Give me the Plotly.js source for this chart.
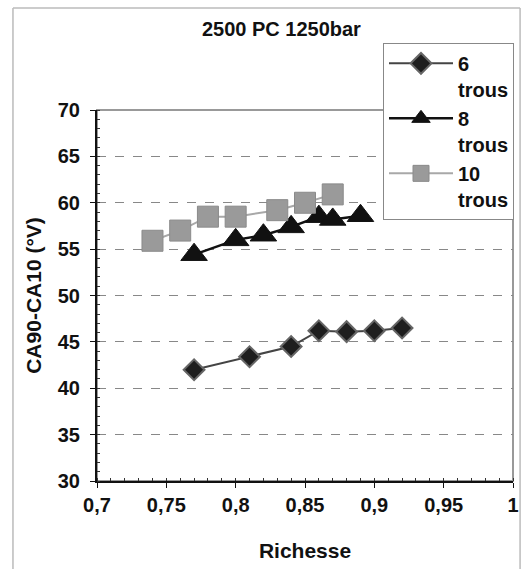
<!DOCTYPE html>
<html>
<head>
<meta charset="utf-8">
<script src="https://cdn.plot.ly/plotly-3.0.1.min.js"></script>
<style>html,body{margin:0;padding:0;background:#fff;}#chart{width:526px;height:569px;}</style>
</head>
<body>
<div id="chart"></div>
<script>
const x6 = [0.77, 0.81, 0.84, 0.86, 0.88, 0.90, 0.92];
const y6 = [42.0, 43.4, 44.5, 46.2, 46.1, 46.2, 46.5];
const x8 = [0.77, 0.80, 0.82, 0.84, 0.86, 0.87, 0.89];
const y8 = [54.4, 56.0, 56.5, 57.4, 58.5, 58.2, 58.6];
const x10 = [0.74, 0.76, 0.78, 0.80, 0.83, 0.85, 0.87];
const y10 = [55.9, 57.0, 58.5, 58.5, 59.2, 60.0, 60.9];
const seriesNames = ["6<br>trous", "8<br>trous", "10<br>trous"];
const xTickVals = [0.7, 0.75, 0.8, 0.85, 0.9, 0.95, 1];
const xTickText = ["0,7", "0,75", "0,8", "0,85", "0,9", "0,95", "1"];
const yTickVals = [30, 35, 40, 45, 50, 55, 60, 65, 70];
const yTickText = ["30", "35", "40", "45", "50", "55", "60", "65", "70"];

const FONT = "Liberation Sans";
const BFONT = {family: FONT, size: 20, color: "#111", weight: 700};

const traces = [
  {x: x6, y: y6, name: seriesNames[0], mode: "lines+markers", type: "scatter",
   line: {color: "#444", width: 2},
   marker: {symbol: "diamond", size: 16, color: "#1e1e1e", line: {color: "#666", width: 2}}},
  {x: x8, y: y8, name: seriesNames[1], mode: "lines+markers", type: "scatter",
   line: {color: "#111", width: 2.5},
   marker: {symbol: "triangle-up", size: 23, color: "#111", line: {color: "#111", width: 1}}},
  {x: x10, y: y10, name: seriesNames[2], mode: "lines+markers", type: "scatter",
   line: {color: "#a8a8a8", width: 2},
   marker: {symbol: "square", size: 21, color: "#9a9a9a", line: {color: "#8a8a8a", width: 1}}}
];

const border = {color: "#bbb", width: 1.5};
const layout = {
  width: 526, height: 569,
  margin: {l: 97, r: 13, t: 110, b: 88, autoexpand: false},
  paper_bgcolor: "#fff", plot_bgcolor: "#fff",
  separators: ", ",
  font: {family: FONT, color: "#111"},
  title: {text: "2500 PC 1250bar", font: {family: FONT, size: 20, color: "#111", weight: 700},
          x: 0.535, xanchor: "center", y: 0.949, yanchor: "middle"},
  showlegend: true,
  legend: {x: 0.6875, y: 1.181, xanchor: "left", yanchor: "top",
           bgcolor: "#fff", bordercolor: "#888", borderwidth: 1,
           font: BFONT,
           valign: "top", tracegroupgap: 0, itemwidth: 64},
  xaxis: {range: [0.7, 1], tickvals: xTickVals, ticktext: xTickText,
          ticks: "outside", ticklen: 5, tickcolor: "#111",
          showline: true, linecolor: "#111", linewidth: 2,
          showgrid: false, zeroline: false,
          minor: {dtick: 0.01, ticks: "inside", ticklen: 3, tickcolor: "#333", showgrid: false},
          tickfont: BFONT,
          title: {text: "Richesse", font: {family: FONT, size: 21, color: "#111", weight: 700}, standoff: 28}},
  yaxis: {range: [30, 70], tickvals: yTickVals, ticktext: yTickText,
          ticks: "outside", ticklen: 5, tickcolor: "#111",
          showline: true, linecolor: "#111", linewidth: 2,
          showgrid: true, gridcolor: "#888", griddash: "dash", gridwidth: 1,
          zeroline: false, ticklabelstandoff: 6,
          minor: {dtick: 1, ticks: "inside", ticklen: 3, tickcolor: "#333", showgrid: false},
          tickfont: BFONT,
          title: {text: "CA90-CA10 (°V)", font: {family: FONT, size: 21, color: "#111", weight: 700}, standoff: 10}},
  shapes: [
    {type: "rect", xref: "paper", yref: "paper", x0: 0, x1: 1, y0: 0, y1: 1,
     line: {color: "#999", width: 2}, layer: "below"},
    {type: "line", xref: "paper", yref: "paper", x0: -0.202, x1: -0.202, y0: -0.25, y1: 1.275, line: border, layer: "below"},
    {type: "line", xref: "paper", yref: "paper", x0: -0.202, x1: 1.017, y0: 1.275, y1: 1.275, line: border, layer: "below"},
    {type: "line", xref: "paper", yref: "paper", x0: 1.017, x1: 1.017, y0: -0.25, y1: 1.275, line: border, layer: "below"}
  ]
};

Plotly.newPlot("chart", traces, layout, {displayModeBar: false, staticPlot: true});
</script>
</body>
</html>
